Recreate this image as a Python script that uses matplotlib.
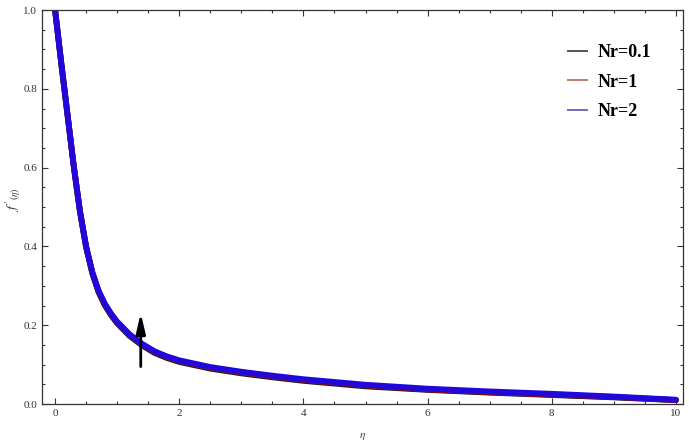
import matplotlib.pyplot as plt
from matplotlib.lines import Line2D
from matplotlib.ticker import MultipleLocator

# data
eta = [0.0, 0.1, 0.2, 0.3, 0.4, 0.5, 0.6, 0.7, 0.8, 0.9, 1.0, 1.2, 1.4,
       1.6, 1.8, 2.0, 2.5, 3.0, 3.5, 4.0, 4.5, 5.0, 6.0, 7.0, 8.0, 9.0, 10.0]
fp_nr2 = [1.0, 0.865, 0.735, 0.605, 0.49, 0.40, 0.335, 0.288, 0.255, 0.23,
          0.209, 0.177, 0.153, 0.134, 0.121, 0.111, 0.094, 0.082, 0.072,
          0.063, 0.056, 0.049, 0.039, 0.032, 0.026, 0.019, 0.011]
fp_nr1 = [1.0, 0.865, 0.735, 0.605, 0.49, 0.399, 0.333, 0.286, 0.253, 0.228,
          0.207, 0.175, 0.151, 0.132, 0.119, 0.109, 0.092, 0.080, 0.070,
          0.061, 0.054, 0.047, 0.037, 0.030, 0.024, 0.018, 0.010]
fp_nr01 = [1.0, 0.865, 0.735, 0.605, 0.49, 0.398, 0.332, 0.284, 0.251,
           0.226, 0.205, 0.173, 0.149, 0.130, 0.117, 0.107, 0.090, 0.078,
           0.068, 0.059, 0.052, 0.045, 0.036, 0.029, 0.023, 0.017, 0.010]

labels = ['Nr=0.1', 'Nr=1', 'Nr=2']
line_colors = ['#111111', '#8a1010', '#2008dd']
legend_colors = ['#555555', '#b87a6e', '#6f6cb4']

plt.rcParams['font.family'] = 'serif'
plt.rcParams['font.serif'] = ['Liberation Serif', 'DejaVu Serif']
plt.rcParams['mathtext.fontset'] = 'stix'

fig = plt.figure(figsize=(6.89, 4.45), dpi=100)
ax = fig.add_axes([0.061, 0.092, 0.930, 0.8855])

for ys, c in zip([fp_nr01, fp_nr1, fp_nr2], line_colors):
    ax.plot(eta, ys, color=c, linewidth=4.2, solid_capstyle='round',
            solid_joinstyle='round')

ax.set_xlim(-0.21, 10.11)
ax.set_ylim(0, 1.0)

ax.xaxis.set_major_locator(MultipleLocator(2))
ax.xaxis.set_minor_locator(MultipleLocator(0.5))
ax.yaxis.set_major_locator(MultipleLocator(0.2))
ax.yaxis.set_minor_locator(MultipleLocator(0.05))
ax.tick_params(which='both', direction='in', top=True, right=True,
               labelsize=8, labelcolor='#333333', color='#333333', width=0.8)
ax.tick_params(which='major', length=4)
ax.tick_params(which='minor', length=2.5)
for s in ax.spines.values():
    s.set_linewidth(0.9)
    s.set_color('#333333')

ax.set_xlabel(r'$\eta$', fontsize=8.5, labelpad=9, color='#444444')
ax.set_ylabel(r"$f^{\,\prime}{}_{(\eta)}$", fontsize=10, color='#333333')
ax.yaxis.set_label_coords(-0.03, 0.52)

# arrow showing increasing Nr
ax.annotate('', xy=(1.38, 0.238), xytext=(1.38, 0.088),
            arrowprops=dict(arrowstyle='-|>,head_width=0.28,head_length=1.2',
                            color='black', lw=2.0))

handles = [Line2D([], [], color=c, lw=1.4) for c in legend_colors]
ax.legend(handles, labels, loc='upper left', bbox_to_anchor=(0.795, 0.955),
          frameon=False, prop={'weight': 'bold', 'size': 13},
          handlelength=1.05, handletextpad=0.6, labelspacing=0.7)

fig.savefig('out.png', dpi=100)
